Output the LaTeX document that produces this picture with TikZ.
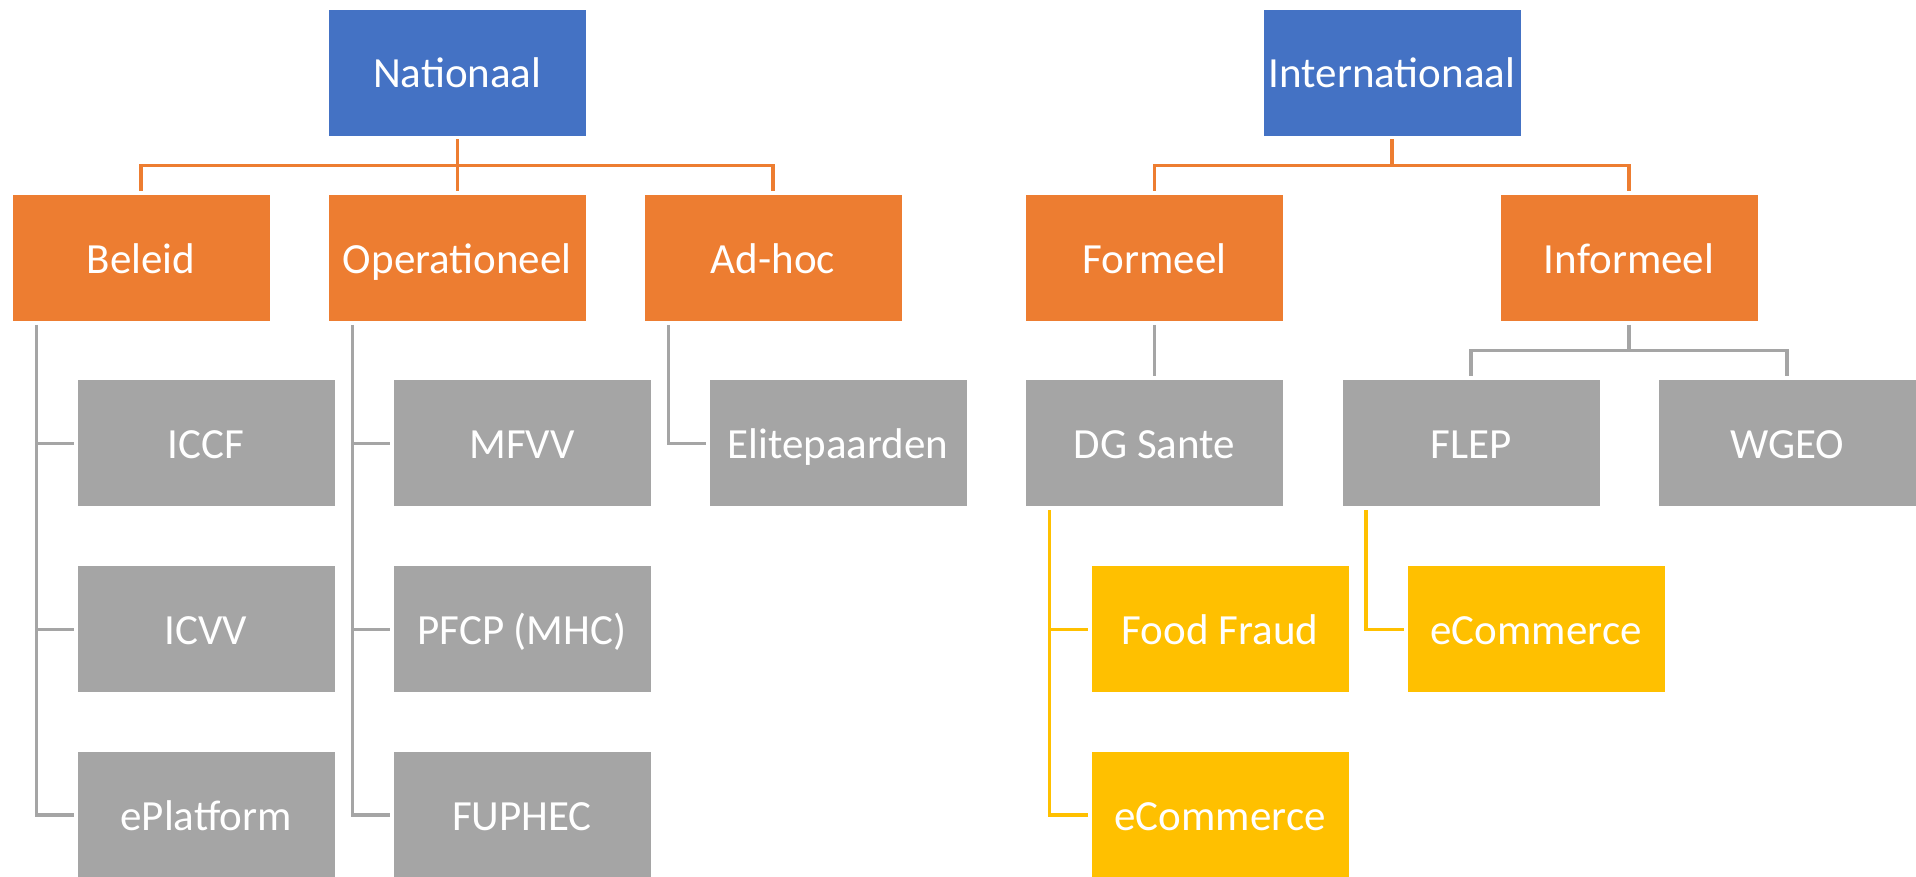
\documentclass[tikz,border=0pt]{standalone}
\usepackage{fontspec}
\setmainfont{Carlito}
\usetikzlibrary{calc}
\definecolor{cblue}{HTML}{4472C4}
\definecolor{corange}{HTML}{ED7D31}
\definecolor{cgray}{HTML}{A5A5A5}
\definecolor{cgold}{HTML}{FFC000}
\begin{document}
\begin{tikzpicture}[x=1pt,y=-1pt,
  box/.style={rectangle, draw=white, line width=0.8pt, minimum width=258pt, minimum height=127pt,
    inner sep=0pt, text=white, font=\fontsize{43}{50}\selectfont, text height=31pt, text depth=0pt},
  topbox/.style={box, fill=cblue},
  midbox/.style={box, fill=corange},
  lowbox/.style={box, fill=cgray},
  leafbox/.style={box, fill=cgold},
  olink/.style={draw=corange, line width=3.3pt},
  glink/.style={draw=cgray, line width=3.3pt},
  ylink/.style={draw=cgold, line width=3.3pt}
]
\useasboundingbox (0,0) rectangle (1916,877);

% row 1
\node[topbox] (nat) at (457.3,72.5) {Nationaal};
\node[topbox] (int) at (1392,72.5) {Internationaal};
% row 2
\node[midbox] (bel) at (141,258) {Beleid};
\node[midbox] (ope) at (457.3,258) {Operationeel};
\node[midbox] (adh) at (773,258) {Ad-hoc};
\node[midbox] (for) at (1154.5,258) {Formeel};
\node[midbox] (inf) at (1629,258) {Informeel};
% row 3
\node[lowbox] (iccf) at (206,443.3) {ICCF};
\node[lowbox] (mfvv) at (522,443.3) {MFVV};
\node[lowbox] (elite) at (838,443.3) {Elitepaarden};
\node[lowbox] (dgs) at (1154.5,443.3) {DG Sante};
\node[lowbox] (flep) at (1471,443.3) {FLEP};
\node[lowbox] (wgeo) at (1787,443.3) {WGEO};
% row 4
\node[lowbox] (icvv) at (206,629.3) {ICVV};
\node[lowbox] (pfcp) at (522,629.3) {PFCP (MHC)};
\node[leafbox] (ff) at (1220,629.3) {Food Fraud};
\node[leafbox] (ecomA) at (1536,629.3) {eCommerce};
% row 5
\node[lowbox] (epl) at (206,815) {ePlatform};
\node[lowbox] (fup) at (522,815) {FUPHEC};
\node[leafbox] (ecomB) at (1220,815) {eCommerce};

% orange connectors
\foreach \c in {bel,ope,adh}
  \draw[olink] ([yshift=-3pt]nat.south) -- ([yshift=-29pt]nat.south) -| ([yshift=3pt]\c.north);
\foreach \c in {for,inf}
  \draw[olink] ([yshift=-3pt]int.south) -- ([yshift=-29pt]int.south) -| ([yshift=3pt]\c.north);

% gray connectors
\coordinate (belx) at ([xshift=24.6pt]bel.south west);
\draw[glink] ([yshift=-3pt]belx) |- ([xshift=-3pt]epl.west);
\draw[glink] (belx |- iccf.west) -- ([xshift=-3pt]iccf.west);
\draw[glink] (belx |- icvv.west) -- ([xshift=-3pt]icvv.west);

\coordinate (opex) at ([xshift=24.6pt]ope.south west);
\draw[glink] ([yshift=-3pt]opex) |- ([xshift=-3pt]fup.west);
\draw[glink] (opex |- mfvv.west) -- ([xshift=-3pt]mfvv.west);
\draw[glink] (opex |- pfcp.west) -- ([xshift=-3pt]pfcp.west);

\coordinate (adhx) at ([xshift=24.6pt]adh.south west);
\draw[glink] ([yshift=-3pt]adhx) |- ([xshift=-3pt]elite.west);

\draw[glink] ([yshift=-3pt]for.south) -- ([yshift=3pt]dgs.north);
\foreach \c in {flep,wgeo}
  \draw[glink] ([yshift=-3pt]inf.south) -- ([yshift=-28.5pt]inf.south) -| ([yshift=3pt]\c.north);

% yellow connectors
\coordinate (dgx) at ([xshift=24.6pt]dgs.south west);
\draw[ylink] ([yshift=-3pt]dgx) |- ([xshift=-3pt]ecomB.west);
\draw[ylink] (dgx |- ff.west) -- ([xshift=-3pt]ff.west);

\coordinate (flx) at ([xshift=24.5pt]flep.south west);
\draw[ylink] ([yshift=-3pt]flx) |- ([xshift=-3pt]ecomA.west);
\end{tikzpicture}
\end{document}
